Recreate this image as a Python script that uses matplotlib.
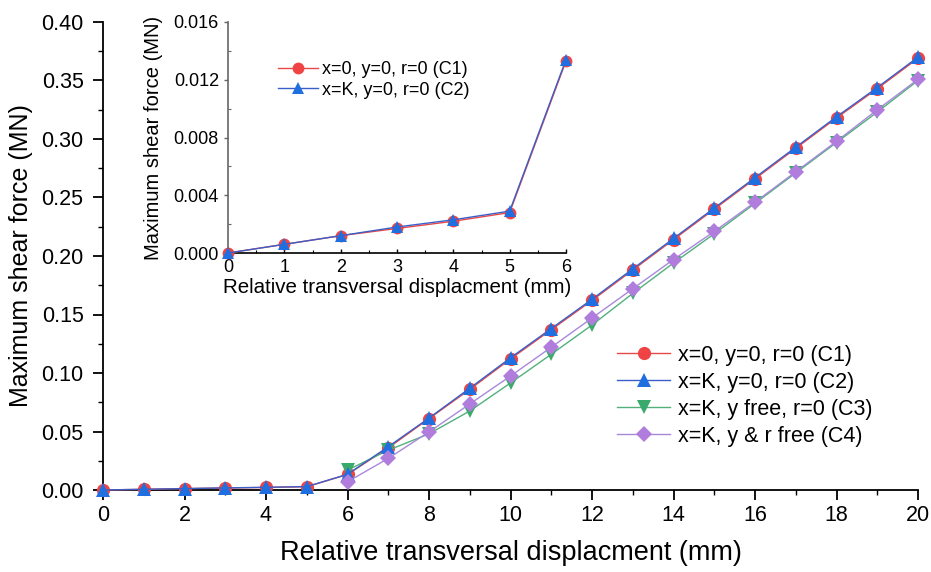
import matplotlib
matplotlib.use("Agg")
import matplotlib.pyplot as plt
from matplotlib.ticker import MultipleLocator, FormatStrFormatter

plt.rcParams['font.family'] = ['Liberation Sans', 'DejaVu Sans']

# Relative transversal displacement (mm)
disp_all = list(range(0, 21))
disp_free = list(range(6, 21))

# Maximum shear force (MN) for each boundary condition
c1 = [0.0, 0.0006, 0.0012, 0.0017, 0.0022, 0.0028, 0.0133, 0.036, 0.061, 0.086, 0.112,
      0.137, 0.162, 0.188, 0.214, 0.240, 0.266, 0.292, 0.318, 0.343, 0.369]
c2 = [0.0, 0.0006, 0.0012, 0.0018, 0.0023, 0.0029, 0.0134, 0.037, 0.0615, 0.087, 0.113,
      0.138, 0.163, 0.189, 0.215, 0.241, 0.267, 0.293, 0.319, 0.344, 0.370]
c3 = [0.017, 0.034, 0.048, 0.0675, 0.0915, 0.116, 0.141, 0.168, 0.194, 0.219, 0.245,
      0.271, 0.297, 0.323, 0.350]
c4 = [0.007, 0.027, 0.0496, 0.0735, 0.0974, 0.122, 0.147, 0.172, 0.197, 0.221, 0.246,
      0.272, 0.298, 0.325, 0.351]

labels = ["x=0, y=0, r=0 (C1)", "x=K, y=0, r=0 (C2)",
          "x=K, y free, r=0 (C3)", "x=K, y & r free (C4)"]

red, blue, green, purple = "#f04444", "#1f6fe0", "#3aaa6c", "#b07ddc"
red_l, blue_l, green_l, purple_l = "#e84848", "#3a5fc8", "#52b07c", "#a888dc"

W, H = 931, 572
fig = plt.figure(figsize=(W / 100, H / 100), dpi=100)
ax = fig.add_axes([103 / W, 1 - 490 / H, (918 - 103) / W, (490 - 22) / H])

ms = 9.5
kw = dict(lw=1.0, clip_on=False, markeredgewidth=0)
ax.plot(disp_all, c1, color=red_l, marker="o", markerfacecolor=red, markersize=ms, label=labels[0], zorder=3, **kw)
ax.plot(disp_all, c2, color=blue_l, marker="^", markerfacecolor=blue, markersize=ms + 0.5, label=labels[1], zorder=4, **kw)
ax.plot(disp_free, c3, color=green_l, marker="v", markerfacecolor=green, markersize=ms + 0.5, label=labels[2], zorder=3, **kw)
ax.plot(disp_free, c4, color=purple_l, marker="D", markerfacecolor=purple, markersize=ms - 1.5, label=labels[3], zorder=4, **kw)

ax.set_xlim(0, 20)
ax.set_ylim(0, 0.40)
ax.xaxis.set_major_locator(MultipleLocator(2))
ax.xaxis.set_minor_locator(MultipleLocator(1))
ax.yaxis.set_major_locator(MultipleLocator(0.05))
ax.yaxis.set_minor_locator(MultipleLocator(0.025))
ax.yaxis.set_major_formatter(FormatStrFormatter("%.2f"))
for s in ("top", "right"):
    ax.spines[s].set_visible(False)
for s in ("left", "bottom"):
    ax.spines[s].set_linewidth(1.3)
ax.tick_params(axis="x", which="major", direction="out", length=7, width=1.3, labelsize=15.5, pad=4)
ax.tick_params(axis="y", which="major", direction="out", length=7, width=1.3, labelsize=15.5, pad=7)
ax.tick_params(which="minor", direction="out", length=3.5, width=1.0)
ax.set_xlabel("Relative transversal displacment (mm)", fontsize=19.5, labelpad=10)
ax.set_ylabel("Maximum shear force (MN)", fontsize=18, labelpad=6)

ax.legend(loc="upper left", bbox_to_anchor=(0.631, 0.31), frameon=False, fontsize=15.5,
          handlelength=2.45, handletextpad=0.35, labelspacing=0.28, borderpad=0,
          borderaxespad=0)

# Inset: zoom on the first 6 mm for C1 and C2
ins = fig.add_axes([228 / W, 1 - 253 / H, (566 - 228) / W, (253 - 22) / H])
n = 7
ms_i = 8.5
ins.plot(disp_all[:n], c1[:n], color=red_l, marker="o", markerfacecolor=red, markersize=ms_i, label=labels[0], zorder=3, **kw)
ins.plot(disp_all[:n], c2[:n], color=blue_l, marker="^", markerfacecolor=blue, markersize=ms_i + 0.5, label=labels[1], zorder=4, **kw)
ins.set_xlim(0, 6)
ins.set_ylim(0, 0.016)
ins.xaxis.set_major_locator(MultipleLocator(1))
ins.xaxis.set_minor_locator(MultipleLocator(0.5))
ins.yaxis.set_major_locator(MultipleLocator(0.004))
ins.yaxis.set_minor_locator(MultipleLocator(0.002))
ins.yaxis.set_major_formatter(FormatStrFormatter("%.3f"))
for s in ("top", "right"):
    ins.spines[s].set_visible(False)
ins.spines["left"].set_color("#666666")
ins.spines["left"].set_linewidth(1.2)
ins.spines["bottom"].set_linewidth(1.2)
ins.tick_params(axis="x", which="major", direction="in", length=3, width=1.0, labelsize=13, pad=4)
ins.tick_params(axis="x", which="minor", direction="in", length=2.5, width=0.8)
ins.tick_params(axis="y", which="major", direction="out", length=3, width=1.0, labelsize=13, pad=3.5,
                color="#666666")
ins.tick_params(axis="y", which="minor", direction="in", length=2.5, width=0.8, color="#666666")
ins.set_xlabel("Relative transversal displacment (mm)", fontsize=14.8, labelpad=1.5)
ins.set_ylabel("Maximum shear force (MN)", fontsize=14.5, labelpad=7.5)
ins.patch.set_alpha(0)
ins.legend(loc="upper left", bbox_to_anchor=(0.148, 0.831), frameon=False, fontsize=13,
           handlelength=2.2, handletextpad=0.25, labelspacing=0.2, borderpad=0,
           borderaxespad=0)

fig.savefig("out.png", dpi=100)
